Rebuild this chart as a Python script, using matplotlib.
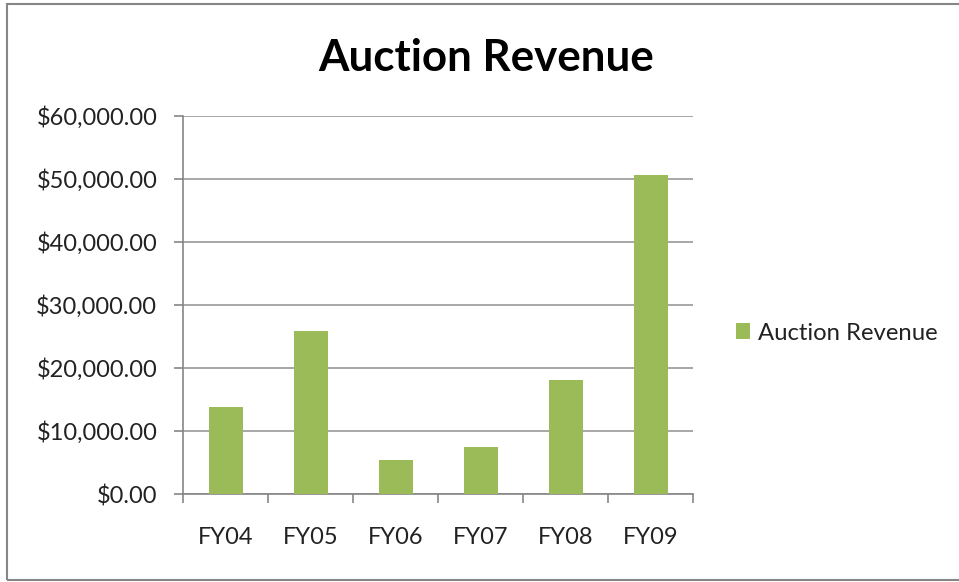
import matplotlib
matplotlib.use("Agg")
import matplotlib.pyplot as plt
from matplotlib.patches import Rectangle
from matplotlib.ticker import FuncFormatter, FixedLocator

years = ["FY04", "FY05", "FY06", "FY07", "FY08", "FY09"]
revenue = [13850, 25850, 5340, 7510, 18130, 50590]
series_name = "Auction Revenue"

plt.rcParams['font.family'] = ['Lato', 'DejaVu Sans']

fig = plt.figure(figsize=(9.59, 5.82), dpi=100)
ax = fig.add_axes([183 / 959, 88 / 582, 510 / 959, 378 / 582])

bar_green = '#9BBB59'
axis_gray = '#868686'
grid_gray = '#A0A0A0'

x = list(range(len(years)))
ax.bar(x, revenue, width=0.4, color=bar_green, label=series_name, zorder=3)

ax.set_xlim(-0.5, len(years) - 0.5)
ax.set_ylim(0, 60000)
ax.set_yticks(range(0, 60001, 10000))
ax.yaxis.set_major_formatter(FuncFormatter(lambda v, p: f"${v:,.2f}"))
ax.set_xticks(x)
ax.set_xticklabels(years)
ax.xaxis.set_minor_locator(FixedLocator([i - 0.5 for i in range(len(years) + 1)]))

ax.grid(axis='y', color=grid_gray, linewidth=1.3, zorder=0)
ax.set_axisbelow(True)
for side in ['top', 'right']:
    ax.spines[side].set_visible(False)
for side in ['left', 'bottom']:
    ax.spines[side].set_color(axis_gray)
    ax.spines[side].set_linewidth(1.2)

ax.tick_params(axis='y', length=6.5, width=1.2, color=axis_gray, pad=12,
               labelsize=17, labelcolor='#222222')
ax.tick_params(axis='x', which='major', length=0, pad=24,
               labelsize=17, labelcolor='#222222')
ax.tick_params(axis='x', which='minor', length=6.3, width=1.2, color=axis_gray)

fig.text(486.5 / 959, 1 - 58 / 582, "Auction Revenue", ha='center', va='center',
         fontsize=31.6, fontweight='bold', color='black')

fig.legend(loc='center left', bbox_to_anchor=(736 / 959, 1 - 333 / 582),
           bbox_transform=fig.transFigure, frameon=False, fontsize=17.2,
           handlelength=0.6, handleheight=0.6, handletextpad=0.3,
           borderpad=0, borderaxespad=0, labelcolor='#222222')

# outer chart border (right side runs off the image)
fig.patches.append(Rectangle((7 / 959, 2 / 582), 1.0, 576 / 582,
                             transform=fig.transFigure, fill=False,
                             edgecolor=axis_gray, linewidth=1.5))

fig.savefig("out.png", dpi=100)
